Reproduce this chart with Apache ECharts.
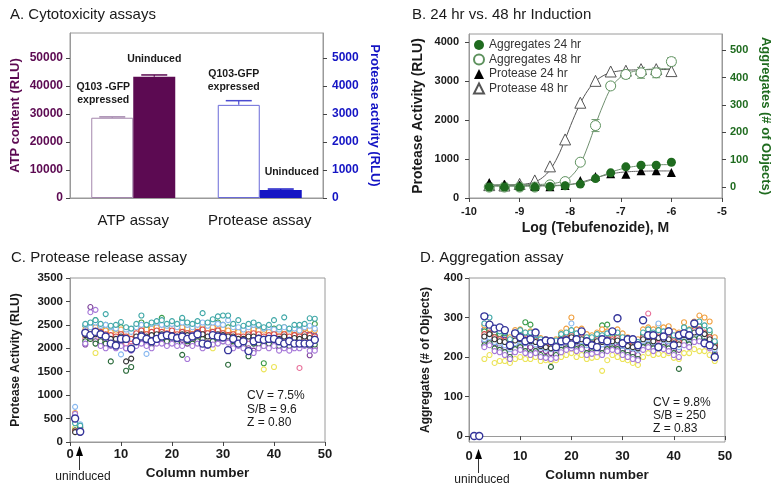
<!DOCTYPE html>
<html><head><meta charset="utf-8">
<script src="https://cdn.jsdelivr.net/npm/echarts@6/dist/echarts.min.js"></script>
<style>html,body{margin:0;padding:0;background:#fff}#c{width:781px;height:489px}</style>
</head><body><div id="c"></div><script>
// ---------------- DATA ----------------
// Panel A
const aCategories = ['ATP assay', 'Protease assay'];
const aBarLabels = ['Q103 -GFP\nexpressed', 'Uninduced', 'Q103-GFP\nexpressed', 'Uninduced'];
const atpValues = [28700, 43400];      // Q103-GFP expressed, Uninduced
const atpErrors = [300, 600];
const protValues = [3330, 290];        // Q103-GFP expressed, Uninduced
const protErrors = [150, 30];
const aLeftTicks = [0, 10000, 20000, 30000, 40000, 50000];
const aRightTicks = [0, 1000, 2000, 3000, 4000, 5000];

// Panel B
const bNames = ['Aggregates 24 hr', 'Aggregates 48 hr', 'Protease 24 hr', 'Protease 48 hr'];
const bLogConc = [-9.6, -9.3, -9.0, -8.7, -8.4, -8.1, -7.8, -7.5, -7.2, -6.9, -6.6, -6.3, -6.0];
const agg24 = [0, 0, 0, 0, 2, 5, 11, 31, 52, 74, 80, 80, 91];
const agg48 = [0, 0, 0, 0, 8, 20, 91, 225, 370, 412, 418, 418, 459];
const agg48Err = [0, 0, 0, 0, 0, 0, 6, 22, 12, 15, 20, 18, 15];
const prot24 = [400, 350, 330, 300, 290, 320, 450, 550, 620, 610, 700, 700, 650];
const prot48 = [330, 320, 360, 450, 810, 1500, 2440, 3000, 3240, 3260, 3300, 3300, 3250];
// fitted curves
const fitX = [-9.6, -9.45, -9.3, -9.15, -9.0, -8.85, -8.7, -8.55, -8.4, -8.25, -8.1, -7.95, -7.8, -7.65, -7.5, -7.35, -7.2, -7.05, -6.9, -6.75, -6.6, -6.45, -6.3, -6.15, -6.0];
const fitProt48 = [330, 331, 333, 336, 345, 365, 412, 520, 720, 1050, 1500, 1990, 2420, 2760, 2990, 3130, 3210, 3250, 3270, 3280, 3285, 3288, 3290, 3290, 3290];
const fitProt24 = [318, 318, 318, 318, 318, 318, 318, 319, 320, 324, 336, 360, 400, 455, 515, 570, 615, 648, 668, 680, 686, 690, 692, 693, 693];
const fitAgg48 = [8, 8, 8, 8, 8, 9, 9, 10, 12, 16, 25, 45, 85, 150, 228, 300, 360, 395, 413, 423, 428, 431, 432, 433, 433];
const fitAgg24 = [3, 3, 3, 3, 3, 3, 3, 4, 4, 5, 7, 10, 15, 22, 32, 43, 54, 63, 70, 75, 78, 80, 81, 82, 82];
const bLeftTicks = [0, 1000, 2000, 3000, 4000];
const bRightTicks = [0, 100, 200, 300, 400, 500];

// Panels C & D: one array per plate row, values for columns 1..48
const columns = [1,2,3,4,5,6,7,8,9,10,11,12,13,14,15,16,17,18,19,20,21,22,23,24,25,26,27,28,29,30,31,32,33,34,35,36,37,38,39,40,41,42,43,44,45,46,47,48];
const cRow1 = [500,230, 2330,2400,2420,2380,2350,2300,2280,2330,2250,2230, 2300,2400,2350,2380,2420,2400,2350,2380,2320,2400, 2350,2330,2360,2420,2350,2380,2400,2330,2300,2350, 2280,2260,2300,2320,2300,2230,2260,2280,2250,2300, 2220,2280,2260,2280,2300,2270];
const cRow2 = [560,300, 2080,2880,2150,2100,2050,2120,2050,2100,2000,1990, 2100,2150,2080,2050,2150,2200,2100,2150,2120,2180, 2100,2080,2150,2050,2100,2120,2150,2180,2200,2050, 2100,2080,2000,1950,2050,2100,2080,2100,2000,2050, 2000,2050,2060,2080,1850,2010];
const cRow3 = [270,250, 2480,2500,2600,2450,2500,2400,2420,2450,2400,2380, 2450,2550,2480,2520,2500,2650,2480,2550,2500,2620, 2480,2500,2550,2520,2480,2600,2550,2500,2450,2500, 2420,2400,2450,2500,2450,1680,2400,2420,2380,2450, 2400,2400,2450,2420,2450,2520];
const cRow4 = [620,200, 2400,2350,2450,2420,2380,2350,2300,2400,2330,2300, 2380,2450,2400,2420,2450,2420,2400,2450,2380,2450, 2420,2400,2450,2500,2420,2450,2480,2420,2380,2400, 2350,2320,2380,2400,2380,2300,2350,2380,2350,2400, 2330,2380,2350,2420,2400,2380];
const cRow5 = [300,280, 2250,2200,1900,2250,2200,2150,2200,2200,2150,2100, 2200,2250,2200,2250,2300,2250,2250,2300,2200,2250, 2250,2200,2250,2300,2250,2000,2300,2250,2200,2250, 2200,2150,2200,2250,2200,1550,2150,1600,2150,2200, 2100,2150,2150,2200,2250,2150];
const cRow6 = [430,200, 2200,2250,2300,2200,2150,2200,2150,2250,2100,2150, 2250,2300,2200,2250,2250,2300,2200,2250,2200,2300, 2250,2200,2250,2300,2200,2250,2300,2250,2200,2200, 2200,2150,2200,2200,2250,2150,2200,2200,2150,2250, 2150,2200,1580,2200,2250,2200];
const cRow7 = [750,380, 2500,2450,2550,2480,2500,2450,2420,1870,2400,2350, 2450,2500,1880,2520,2550,2500,2480,2520,2450,2550, 2500,2450,2500,2550,2480,2550,2520,2500,2600,2450, 2450,2400,2450,2500,2480,2420,2450,2400,2400,2450, 2400,2420,2380,2450,2480,2420];
const cRow8 = [250,320, 2150,2200,2100,2150,2100,1720,2100,2150,1520,1600, 2150,2200,2100,2100,2150,2200,2150,2150,2100,1860, 2150,2100,2150,2200,2100,2150,2200,2150,1650,2150, 2100,2050,1830,2100,2100,2050,2100,2080,2050,2100, 2050,2100,2050,2100,2050,2080];
const cRow9 = [230,210, 2350,2300,2380,2350,2300,2280,2250,2300,2250,2200, 2320,2380,2300,2350,2380,2350,2320,2380,2300,2350, 2320,2300,2350,2400,2320,2350,2380,2320,2280,2300, 2250,2250,2300,2320,2300,2250,2280,2300,2250,2300, 2250,2280,2250,2300,2280,2250];
const cRow10 = [210,240, 2280,2250,2300,2280,2250,2200,2200,2250,1720,1780, 2250,2300,2250,2280,2300,2300,2250,2280,2250,2300, 2280,2250,2280,2300,2250,2280,2300,2280,2250,2250, 2200,2200,2250,2250,2230,2200,2200,2220,2200,2250, 2180,2220,2200,2250,2220,2200];
const cRow11 = [600,260, 2100,2770,2820,2050,2000,2050,2000,2050,2000,1950, 2050,2100,2050,2000,2100,2100,2050,2100,2050,2050, 1770,2050,2100,2000,2050,2080,2100,2150,2120,2000, 2050,2000,1950,1900,2000,2050,2000,2050,1950,2000, 1950,2000,2000,2050,1950,1950];
const cRow12 = [400,350, 2520,2550,2600,2520,2730,2480,2500,2560,2450,2420, 2520,2700,2500,2550,2580,2600,2520,2580,2520,2650, 2550,2520,2580,2750,2550,2620,2680,2700,2700,2520, 2600,2480,2520,2550,2500,2450,2500,2600,2450,2660, 2420,2500,2500,2520,2640,2630];
const cMarked = [500,220, 2330,2280,2350,2300,2250,2100,2060,2200,2200,1990, 2150,2250,2200,2150,2200,2250,2280,2250,2220,2250, 2200,2250,2300,2100,2080,2280,2250,2230,1960,2200, 2100,2150,1940,2150,2200,2180,2200,2200,2150,2100, 2150,2100,2100,2100,2100,2180];

const dRow1 = [0,0, 270,275,260,250,255,235,250,255,250,248, 245,235,232,230,230,245,250,255,248,250, 242,240,245,240,245,245,248,238,235,232, 225,250,252,248,252,250,252,240,240,262, 258,268,270,262,252,232];
const dRow2 = [0,0, 240,245,235,230,225,210,225,230,225,225, 228,220,215,210,212,225,230,232,225,232, 222,220,228,222,230,228,225,220,215,210, 205,228,232,225,230,232,228,220,218,240, 235,245,248,240,230,210];
const dRow3 = [0,0, 265,270,262,258,260,240,255,262,288,282, 250,238,235,232,235,250,255,262,258,262, 245,245,250,280,282,252,255,245,240,238, 235,258,262,255,262,258,262,250,252,275, 265,275,278,270,262,235];
const dRow4 = [0,0, 280,285,270,268,265,250,268,270,262,265, 258,248,245,242,245,262,272,300,270,272, 258,255,262,270,265,265,270,260,250,245, 245,270,275,270,280,275,278,265,262,288, 270,290,305,300,290,250];
const dRow5 = [0,0, 195,205,185,190,190,185,195,200,195,195, 200,190,192,190,192,200,205,210,200,205, 195,198,200,165,192,205,200,195,192,185, 180,200,210,205,208,205,210,198,195,210, 210,220,215,215,205,190];
const dRow6 = [0,0, 250,255,245,240,235,225,240,245,240,242, 238,230,228,225,228,240,245,250,242,248, 235,235,240,238,242,240,245,232,230,228, 222,245,310,240,245,248,245,232,230,258, 250,262,265,255,245,225];
const dRow7 = [0,0, 245,250,238,235,230,220,235,240,235,238, 232,225,222,220,222,235,240,285,238,240, 230,230,235,232,235,238,240,228,225,222, 218,240,245,238,285,242,240,228,225,250, 245,255,260,250,240,220];
const dRow8 = [0,0, 230,235,222,218,212,200,220,225,215,210, 215,205,200,175,205,218,222,228,220,225, 210,212,218,210,220,222,220,210,205,200, 195,225,230,222,228,225,222,210,170,238, 232,245,248,240,230,205];
const dRow9 = [0,0, 258,262,250,245,242,230,248,250,245,245, 242,235,232,230,232,245,250,255,245,250, 240,240,245,242,245,245,248,238,235,230, 228,250,255,245,252,250,250,240,238,262, 255,268,270,262,250,230];
const dRow10 = [0,0, 252,258,245,240,238,225,242,245,240,240, 238,228,225,222,225,240,245,250,240,245, 235,235,240,238,240,240,242,232,228,225, 222,245,250,240,248,245,245,235,232,255, 250,262,265,258,245,225];
const dRow11 = [0,0, 225,230,215,212,205,195,212,218,210,205, 210,200,198,195,198,212,218,222,215,220, 205,208,212,205,215,218,215,205,200,195, 192,218,225,215,222,220,215,205,200,230, 225,238,240,232,222,200];
const dRow12 = [0,0, 285,300,272,265,262,245,262,268,262,262, 255,245,242,238,242,258,262,268,260,265, 250,250,258,255,260,262,262,250,248,242, 238,262,270,262,268,265,268,255,250,275, 268,282,290,280,268,240];
const dMarked = [0,0, 303,282,272,275,268,230,260,250,240,245, 262,235,242,240,225,240,242,232,245,265, 240,230,225,245,240,265,298,235,245,245, 230,293,255,255,225,252,265,230,255,260, 255,285,265,235,230,200];

const cTicks = [0, 500, 1000, 1500, 2000, 2500, 3000, 3500];
const dTicks = [0, 100, 200, 300, 400];
const colTicks = [0, 10, 20, 30, 40, 50];
const cStats = ['CV = 7.5%', 'S/B = 9.6', 'Z = 0.80'];
const dStats = ['CV = 9.8%', 'S/B = 250', 'Z = 0.83'];
const titles = ['A. Cytotoxicity assays', 'B. 24 hr vs. 48 hr Induction', 'C. Protease release assay', 'D. Aggregation assay'];

// ---------------- STYLE / BUILD ----------------
const FONT = '"Liberation Sans", Arial, Helvetica, sans-serif';
const TXT = '#1a1a1a';
const FRAME = '#9a9a9a';
const TICK = '#444';
const PURPLE = '#5c0a52';
const BLUE = '#1414c4';
const GREEN = '#1f6b1f';
const rowColors = ['#3a3ab8', '#7b3f98', '#3a9a48', '#f0a040', '#ece45a', '#e8709a', '#88b8f0', '#2a6a3a', '#d84848', '#333333', '#a678d8', '#40a8a8'];
const cRows = [cRow1, cRow2, cRow3, cRow4, cRow5, cRow6, cRow7, cRow8, cRow9, cRow10, cRow11, cRow12];
const dRows = [dRow1, dRow2, dRow3, dRow4, dRow5, dRow6, dRow7, dRow8, dRow9, dRow10, dRow11, dRow12];

const BAR_W = 42;
const plain = v => String(v);

function yAx(o) {
  return Object.assign({
    type: 'value',
    splitLine: { show: false },
    axisLine: { show: true, lineStyle: { color: FRAME } },
    axisTick: { show: true, length: 4, lineStyle: { color: TICK } },
    nameLocation: 'middle',
  }, o);
}
function lab(size, color, margin, custom) {
  const l = { fontFamily: FONT, fontWeight: 'bold', fontSize: size, color: color, margin: margin, formatter: plain };
  if (custom) l.customValues = custom;
  return l;
}
function nameStyle(size, color) {
  return { fontFamily: FONT, fontWeight: 'bold', fontSize: size, color: color };
}

function errA(colors) {
  return function (params, api) {
    const side = params.dataIndex === 0 ? -1 : 1;
    const p0 = api.coord([api.value(0), api.value(1)]);
    const p1 = api.coord([api.value(0), api.value(1) + api.value(2)]);
    const x = p0[0] + side * BAR_W / 2;
    const c = colors[params.dataIndex];
    return { type: 'group', children: [
      { type: 'line', shape: { x1: x, y1: p0[1], x2: x, y2: p1[1] }, style: { stroke: c, lineWidth: 1.2 } },
      { type: 'line', shape: { x1: x - 13, y1: p1[1], x2: x + 13, y2: p1[1] }, style: { stroke: c, lineWidth: 1.5 } }
    ] };
  };
}
function errB(params, api) {
  const x = api.value(0), y = api.value(1), e = api.value(2);
  if (!e) return null;
  const lo = api.coord([x, y - e]), hi = api.coord([x, y + e]);
  const c = '#6f9a6f';
  return { type: 'group', children: [
    { type: 'line', shape: { x1: lo[0], y1: lo[1], x2: hi[0], y2: hi[1] }, style: { stroke: c, lineWidth: 1 } },
    { type: 'line', shape: { x1: lo[0] - 4, y1: lo[1], x2: lo[0] + 4, y2: lo[1] }, style: { stroke: c, lineWidth: 1 } },
    { type: 'line', shape: { x1: hi[0] - 4, y1: hi[1], x2: hi[0] + 4, y2: hi[1] }, style: { stroke: c, lineWidth: 1 } }
  ] };
}
function barLabel(text, offset) {
  return { show: true, position: 'top', distance: 11, offset: offset, formatter: text,
    fontFamily: FONT, fontWeight: 'bold', fontSize: 10.5, lineHeight: 13, color: TXT, align: 'center' };
}
function pair(xs, ys) { return xs.map((x, i) => [x, ys[i]]); }

const series = [];
// Panel A bars
series.push({ type: 'bar', name: 'ATP Q103', xAxisIndex: 0, yAxisIndex: 0, barWidth: BAR_W, barGap: '0%',
  data: [atpValues[0], '-'], itemStyle: { color: '#fff', borderColor: '#a487ad', borderWidth: 1 },
  label: barLabel(aBarLabels[0], [-9, 0]) });
series.push({ type: 'bar', name: 'ATP Uninduced', xAxisIndex: 0, yAxisIndex: 0, barWidth: BAR_W, barGap: '0%',
  data: [atpValues[1], '-'], itemStyle: { color: PURPLE },
  label: barLabel(aBarLabels[1], [0, 0]) });
series.push({ type: 'bar', name: 'Protease Q103', xAxisIndex: 1, yAxisIndex: 1, barWidth: BAR_W, barGap: '0%',
  data: ['-', protValues[0]], itemStyle: { color: '#fff', borderColor: '#6a6ad8', borderWidth: 1 },
  label: barLabel(aBarLabels[2], [-5, 0]) });
series.push({ type: 'bar', name: 'Protease Uninduced', xAxisIndex: 1, yAxisIndex: 1, barWidth: BAR_W, barGap: '0%',
  data: ['-', protValues[1]], itemStyle: { color: BLUE },
  label: barLabel(aBarLabels[3], [11, 0]) });
series.push({ type: 'custom', xAxisIndex: 0, yAxisIndex: 0, z: 3,
  data: [[0, atpValues[0], atpErrors[0]], [0, atpValues[1], atpErrors[1]]], renderItem: errA(['#a487ad', PURPLE]) });
series.push({ type: 'custom', xAxisIndex: 1, yAxisIndex: 1, z: 3,
  data: [[1, protValues[0], protErrors[0]], [1, protValues[1], protErrors[1]]], renderItem: errA(['#4a4ad0', BLUE]) });

// Panel B fit lines
const fitLine = (ys, yi, color) => ({ type: 'line', xAxisIndex: 2, yAxisIndex: yi, data: pair(fitX, ys), smooth: 0.4,
  showSymbol: false, symbol: 'none', lineStyle: { color: color, width: 1 }, silent: true, z: 2 });
series.push(fitLine(fitProt48, 2, '#555'));
series.push(fitLine(fitProt24, 2, '#666'));
series.push(fitLine(fitAgg48, 3, '#6f8f6f'));
series.push(fitLine(fitAgg24, 3, '#6f8f6f'));
series.push({ type: 'custom', xAxisIndex: 2, yAxisIndex: 3, z: 3,
  data: bLogConc.map((x, i) => [x, agg48[i], agg48Err[i]]), renderItem: errB });
series.push({ type: 'scatter', name: bNames[3], xAxisIndex: 2, yAxisIndex: 2, symbol: 'triangle', symbolSize: 11,
  data: pair(bLogConc, prot48), itemStyle: { color: '#fff', borderColor: '#555', borderWidth: 1, opacity: 1 }, z: 4 });
series.push({ type: 'scatter', name: bNames[2], xAxisIndex: 2, yAxisIndex: 2, symbol: 'triangle', symbolSize: 9,
  data: pair(bLogConc, prot24), itemStyle: { color: '#000', opacity: 1 }, z: 5 });
series.push({ type: 'scatter', name: bNames[1], xAxisIndex: 2, yAxisIndex: 3, symbol: 'circle', symbolSize: 10,
  data: pair(bLogConc, agg48), itemStyle: { color: '#fff', borderColor: '#5e925e', borderWidth: 1, opacity: 1 }, z: 4 });
series.push({ type: 'scatter', name: bNames[0], xAxisIndex: 2, yAxisIndex: 3, symbol: 'circle', symbolSize: 9,
  data: pair(bLogConc, agg24), itemStyle: { color: GREEN, opacity: 1 }, z: 5 });

// Panels C & D
function wellSeries(rows, xi, yi) {
  rows.forEach((vals, r) => {
    series.push({ type: 'scatter', xAxisIndex: xi, yAxisIndex: yi, symbol: 'circle', symbolSize: 5, silent: true,
      data: pair(columns, vals), itemStyle: { color: '#fff', borderColor: rowColors[r], borderWidth: 1.1, opacity: 1 } });
  });
}
wellSeries(cRows, 3, 4);
series.push({ type: 'scatter', xAxisIndex: 3, yAxisIndex: 4, symbol: 'circle', symbolSize: 7, silent: true,
  data: pair(columns, cMarked), itemStyle: { color: '#fff', borderColor: '#34349a', borderWidth: 1.4, opacity: 1 } });
wellSeries(dRows, 4, 5);
series.push({ type: 'scatter', xAxisIndex: 4, yAxisIndex: 5, symbol: 'circle', symbolSize: 7, silent: true,
  data: pair(columns, dMarked), itemStyle: { color: '#fff', borderColor: '#34349a', borderWidth: 1.4, opacity: 1 } });

const gridBox = (l, t, w, h) => ({ left: l, top: t, width: w, height: h, show: true, borderColor: FRAME, borderWidth: 1, containLabel: false });

const option = {
  animation: false,
  backgroundColor: '#fff',
  textStyle: { fontFamily: FONT },
  title: [
    { text: titles[0], left: 10, top: 7, padding: 0 },
    { text: titles[1], left: 412, top: 7, padding: 0 },
    { text: titles[2], left: 11, top: 250, padding: 0 },
    { text: titles[3], left: 420, top: 250, padding: 0 }
  ].map(t => Object.assign(t, { textStyle: { fontFamily: FONT, fontSize: 15, fontWeight: 'normal', color: TXT } })),
  legend: {
    data: bNames, orient: 'vertical', left: 473, top: 39, itemWidth: 10, itemHeight: 10, itemGap: 2.5, padding: 0,
    textStyle: { fontFamily: FONT, fontSize: 12, color: '#333' }, selectedMode: false
  },
  grid: [gridBox(70, 33, 253, 165), gridBox(469, 34, 253, 164), gridBox(70, 278, 255, 164), gridBox(469, 278, 256, 164)],
  xAxis: [
    { gridIndex: 0, type: 'category', data: aCategories, axisTick: { show: false },
      axisLine: { show: true, lineStyle: { color: FRAME } },
      axisLabel: { fontFamily: FONT, fontSize: 15, color: TXT, margin: 15, interval: 0, hideOverlap: false } },
    { gridIndex: 0, type: 'category', data: aCategories, show: false },
    { gridIndex: 1, type: 'value', min: -10, max: -5, interval: 1, splitLine: { show: false },
      axisLine: { show: true, lineStyle: { color: FRAME } }, axisTick: { show: true, length: 4, lineStyle: { color: TICK } },
      axisLabel: lab(11, TXT, 8), name: 'Log (Tebufenozide), M', nameLocation: 'middle', nameGap: 23,
      nameTextStyle: nameStyle(14, TXT) },
    { gridIndex: 2, type: 'value', min: 0, max: 50, interval: 10, splitLine: { show: false },
      axisLine: { show: true, lineStyle: { color: FRAME } }, axisTick: { show: true, length: 4, lineStyle: { color: TICK } },
      axisLabel: lab(13, TXT, 6, colTicks), name: 'Column number', nameLocation: 'middle', nameGap: 24,
      nameTextStyle: nameStyle(13.5, TXT) },
    { gridIndex: 3, type: 'value', min: 0, max: 50, interval: 10, splitLine: { show: false },
      axisLine: { show: true, lineStyle: { color: FRAME } }, axisTick: { show: true, length: 4, lineStyle: { color: TICK } },
      axisLabel: lab(13, TXT, 8, colTicks), name: 'Column number', nameLocation: 'middle', nameGap: 26,
      nameTextStyle: nameStyle(13.5, TXT) }
  ],
  yAxis: [
    yAx({ gridIndex: 0, min: 0, max: 59000, axisLabel: lab(12, PURPLE, 7, aLeftTicks),
      axisTick: { show: true, length: 4, lineStyle: { color: TICK }, customValues: aLeftTicks },
      name: 'ATP content (RLU)', nameGap: 48, nameTextStyle: nameStyle(13, PURPLE) }),
    yAx({ gridIndex: 0, position: 'right', min: 0, max: 5900, axisLabel: lab(12, BLUE, 9, aRightTicks),
      axisTick: { show: true, length: 4, lineStyle: { color: TICK }, customValues: aRightTicks },
      name: 'Protease activity (RLU)', nameGap: 45, nameRotate: -90, nameTextStyle: nameStyle(13, BLUE) }),
    yAx({ gridIndex: 1, min: 0, max: 4200, axisLabel: lab(11, TXT, 10, bLeftTicks),
      axisTick: { show: true, length: 4, lineStyle: { color: TICK }, customValues: bLeftTicks },
      name: 'Protease Activity (RLU)', nameGap: 44, nameTextStyle: nameStyle(14, TXT) }),
    yAx({ gridIndex: 1, position: 'right', min: -40, max: 560, axisLabel: lab(11, GREEN, 8, bRightTicks),
      axisTick: { show: true, length: 4, lineStyle: { color: TICK }, customValues: bRightTicks },
      name: 'Aggregates (# of Objects)', nameGap: 37, nameRotate: -90, nameTextStyle: nameStyle(13, GREEN) }),
    yAx({ gridIndex: 2, min: 0, max: 3500, interval: 500, axisLabel: lab(11.5, TXT, 7, cTicks),
      name: 'Protease Activity (RLU)', nameGap: 48, nameTextStyle: nameStyle(12, TXT) }),
    yAx({ gridIndex: 3, min: -15, max: 400, axisLabel: lab(11.5, TXT, 6, dTicks),
      axisTick: { show: true, length: 4, lineStyle: { color: TICK }, customValues: dTicks },
      name: 'Aggregates (# of Objects)', nameGap: 37, nameTextStyle: nameStyle(12, TXT) })
  ],
  graphic: [
    { type: 'text', left: 247, top: 389, z: 100, style: { text: cStats.join('\n'), font: '12px ' + FONT, lineHeight: 13.5, fill: TXT } },
    { type: 'text', left: 653, top: 396, z: 100, style: { text: dStats.join('\n'), font: '12px ' + FONT, lineHeight: 13, fill: TXT } },
    { type: 'polygon', z: 100, shape: { points: [[76, 456], [83, 456], [79.5, 446]] }, style: { fill: '#000' } },
    { type: 'line', z: 100, shape: { x1: 79.5, y1: 456, x2: 79.5, y2: 470 }, style: { stroke: '#333', lineWidth: 1 } },
    { type: 'text', z: 100, x: 83, y: 477, style: { text: 'uninduced', font: '12px ' + FONT, fill: TXT, align: 'center', verticalAlign: 'middle' } },
    { type: 'polygon', z: 100, shape: { points: [[475, 459], [482, 459], [478.5, 449]] }, style: { fill: '#000' } },
    { type: 'line', z: 100, shape: { x1: 478.5, y1: 459, x2: 478.5, y2: 473 }, style: { stroke: '#333', lineWidth: 1 } },
    { type: 'text', z: 100, x: 482, y: 480, style: { text: 'uninduced', font: '12px ' + FONT, fill: TXT, align: 'center', verticalAlign: 'middle' } }
  ],
  series: series
};

const chart = echarts.init(document.getElementById('c'), null, { renderer: 'canvas' });
chart.setOption(option);
</script></body></html>
